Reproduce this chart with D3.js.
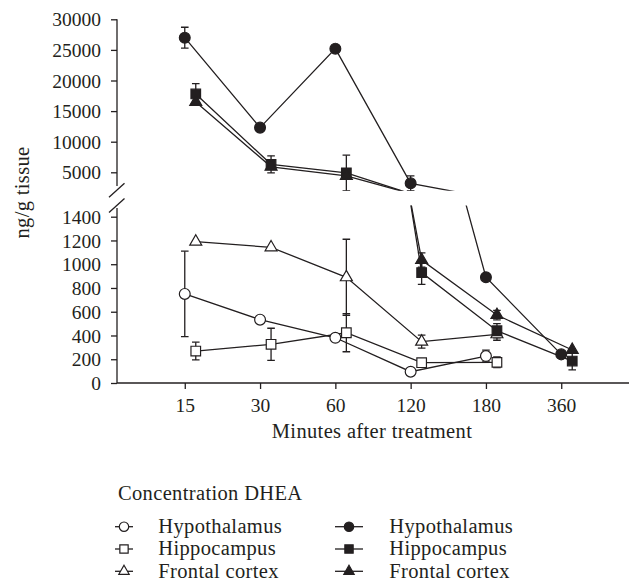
<!DOCTYPE html>
<html>
<head>
<meta charset="utf-8">
<script src="https://cdn.jsdelivr.net/npm/d3@7"></script>
<style>
  html, body { margin: 0; padding: 0; background: #fff; }
  svg { display: block; }
  text { font-family: "Liberation Serif", "Times New Roman", serif; fill: #231f20; }
</style>
</head>
<body>
<svg id="chart" width="629" height="582"></svg>
<script>
// ---------------- data ----------------
const categories = ["15", "30", "60", "120", "180", "360"];
const upperTicks = [5000, 10000, 15000, 20000, 25000, 30000];
const lowerTicks = [0, 200, 400, 600, 800, 1000, 1200, 1400];

// open symbols (first legend column)
const openHypothalamus      = [750, 533, 381, 95, 227, null];
const openHypothalamusErr   = [360, 0, 0, 0, 50, null];
const openHippocampus       = [269, 326, 423, 171, 174, null];
const openHippocampusErr    = [75, 135, 160, 35, 45, null];
const openFrontalCortex     = [1190, 1142, 890, 348, 410, null];
const openFrontalCortexErr  = [0, 0, 320, 55, 50, null];

// filled symbols (second legend column, DHEA)
const filledHypothalamus     = [27000, 12300, 25200, 3200, 890, 241];
const filledHypothalamusErr  = [1700, 500, 0, 1200, 0, 30];
const filledHippocampus      = [17800, 6300, 4900, 930, 440, 185];
const filledHippocampusErr   = [1700, 1400, 2900, 100, 60, 75];
const filledFrontalCortex    = [16500, 5900, 4400, 1035, 572, 278];
const filledFrontalCortexErr = [0, 0, 0, 60, 40, 0];

const legendTitle = "Concentration DHEA";
const regionNames = ["Hypothalamus", "Hippocampus", "Frontal cortex"];
const xTitle = "Minutes after treatment";
const yTitle = "ng/g tissue";

// ---------------- setup ----------------
const INK = "#231f20";
const svg = d3.select("#chart");

const axisX = 117;
const x = d3.scalePoint().domain(categories).range([axisX, 629]).padding(0.9);
const yUpper = d3.scaleLinear().domain([5000, 30000]).range([172.3, 19.3]);
const yLower = d3.scaleLinear().domain([0, 1400]).range([383, 216.7]);

const shapes = { circle: d3.symbolCircle, square: d3.symbolSquare, triangle: d3.symbolTriangle };
const sizes = { circle: 92, square: 92, triangle: 62 };

const series = [
  { vals: openHypothalamus,     errs: openHypothalamusErr,     shape: "circle",   filled: false, shift: 0 },
  { vals: openHippocampus,      errs: openHippocampusErr,      shape: "square",   filled: false, shift: 11 },
  { vals: openFrontalCortex,    errs: openFrontalCortexErr,    shape: "triangle", filled: false, shift: 11 },
  { vals: filledHypothalamus,   errs: filledHypothalamusErr,   shape: "circle",   filled: true,  shift: 0 },
  { vals: filledHippocampus,    errs: filledHippocampusErr,    shape: "square",   filled: true,  shift: 11 },
  { vals: filledFrontalCortex,  errs: filledFrontalCortexErr,  shape: "triangle", filled: true,  shift: 11 }
].map(s => ({ ...s, pts: categories.map((c, i) => ({ c, v: s.vals[i], e: s.errs[i] })).filter(d => d.v != null) }));

const defs = svg.append("defs");
defs.append("clipPath").attr("id", "clipUpper").append("rect")
  .attr("x", axisX).attr("y", 0).attr("width", 629 - axisX).attr("height", 190.7);
defs.append("clipPath").attr("id", "clipLower").append("rect")
  .attr("x", axisX).attr("y", 205.5).attr("width", 629 - axisX).attr("height", 195);

// each panel shows markers only for values inside its own range segment
function drawPanel(y, clipId, inPanel) {
  const g = svg.append("g").attr("clip-path", `url(#${clipId})`);
  const px = (s, d) => x(d.c) + s.shift;
  // lines
  series.forEach(s => {
    g.append("path")
      .datum(s.pts)
      .attr("fill", "none").attr("stroke", INK).attr("stroke-width", 1.3)
      .attr("d", d3.line().x(d => px(s, d)).y(d => y(d.v)));
  });
  // error bars
  series.forEach(s => {
    const eb = g.append("g").attr("stroke", INK).attr("stroke-width", 1.3);
    s.pts.filter(d => d.e > 0 && inPanel(d.v)).forEach(d => {
      const cx = px(s, d);
      const y0 = y(d.v - d.e), y1 = y(d.v + d.e);
      eb.append("line").attr("x1", cx).attr("x2", cx).attr("y1", y0).attr("y2", y1);
      [y0, y1].forEach(yy => eb.append("line").attr("x1", cx - 3.8).attr("x2", cx + 3.8).attr("y1", yy).attr("y2", yy));
    });
  });
  // markers
  series.forEach(s => {
    g.selectAll(null).data(s.pts.filter(d => inPanel(d.v))).enter().append("path")
      .attr("transform", d => `translate(${px(s, d)},${y(d.v)})`)
      .attr("d", d3.symbol().type(shapes[s.shape]).size(sizes[s.shape]))
      .attr("fill", s.filled ? INK : "#fff")
      .attr("stroke", INK).attr("stroke-width", 1.2);
  });
}
drawPanel(yUpper, "clipUpper", v => v >= 2000);
drawPanel(yLower, "clipLower", v => v <= 1500);

// ---------------- axes ----------------
const axisStyle = sel => {
  sel.select(".domain").remove();
  sel.selectAll(".tick line").attr("stroke", INK).attr("stroke-width", 1.3);
  sel.selectAll(".tick text").attr("fill", INK).style("font-size", "19.5px")
    .style("font-family", '"Liberation Serif", serif');
};

svg.append("g").attr("transform", `translate(${axisX},0)`)
  .call(d3.axisLeft(yUpper).tickValues(upperTicks).tickFormat(d3.format("d")).tickSize(6).tickPadding(10))
  .call(axisStyle)
  .call(s => s.selectAll(".tick text").attr("dy", "0.34em"));

svg.append("g").attr("transform", `translate(${axisX},0)`)
  .call(d3.axisLeft(yLower).tickValues(lowerTicks).tickFormat(d3.format("d")).tickSize(6).tickPadding(10))
  .call(axisStyle)
  .call(s => s.selectAll(".tick text").attr("dy", "0.34em"));

svg.append("g").attr("transform", `translate(0,${yLower(0)})`)
  .call(d3.axisBottom(x).tickSize(6).tickPadding(6))
  .call(axisStyle)
  .call(s => s.selectAll(".tick text").attr("dy", "0.85em"));

// axis lines (broken y axis)
const axG = svg.append("g").attr("stroke", INK).attr("stroke-width", 1.3).attr("fill", "none");
axG.append("line").attr("x1", axisX).attr("x2", axisX).attr("y1", yUpper(30000)).attr("y2", 186);
axG.append("line").attr("x1", axisX).attr("x2", axisX).attr("y1", 208).attr("y2", yLower(0));
axG.append("line").attr("x1", axisX).attr("x2", 629).attr("y1", yLower(0)).attr("y2", yLower(0));
// break marks
[190.3, 205.5].forEach(cy => {
  axG.append("line").attr("x1", axisX - 8).attr("y1", cy + 7).attr("x2", axisX + 7.5).attr("y2", cy - 7);
});

// titles
const TS = "20.5px", LS = "0.35px";
svg.append("text").attr("x", 372).attr("y", 438).attr("text-anchor", "middle")
  .style("font-size", TS).style("letter-spacing", LS).text(xTitle);
svg.append("text").attr("transform", "translate(29,192.5) rotate(-90)").attr("text-anchor", "middle")
  .style("font-size", TS).style("letter-spacing", LS).text(yTitle);

// ---------------- legend ----------------
const leg = svg.append("g");
leg.append("text").attr("x", 118).attr("y", 500).style("font-size", TS)
  .style("letter-spacing", LS).text(legendTitle);

const legendCols = [
  { x0: 115, x1: 133, tx: 158.3, items: series.slice(0, 3) },
  { x0: 335, x1: 363, tx: 389.3, items: series.slice(3, 6) }
];
const rowBase = [533, 555.3, 577.6];
legendCols.forEach(col => {
  col.items.forEach((s, i) => {
    const cy = rowBase[i] - 6.3;
    leg.append("line").attr("x1", col.x0).attr("x2", col.x1).attr("y1", cy).attr("y2", cy)
      .attr("stroke", INK).attr("stroke-width", 1.3);
    leg.append("path")
      .attr("transform", `translate(${(col.x0 + col.x1) / 2},${cy})`)
      .attr("d", d3.symbol().type(shapes[s.shape]).size(sizes[s.shape] * 0.75))
      .attr("fill", s.filled ? INK : "#fff").attr("stroke", INK).attr("stroke-width", 1.2);
    leg.append("text").attr("x", col.tx).attr("y", rowBase[i]).style("font-size", TS)
      .style("letter-spacing", LS).text(regionNames[i]);
  });
});
</script>
</body>
</html>
